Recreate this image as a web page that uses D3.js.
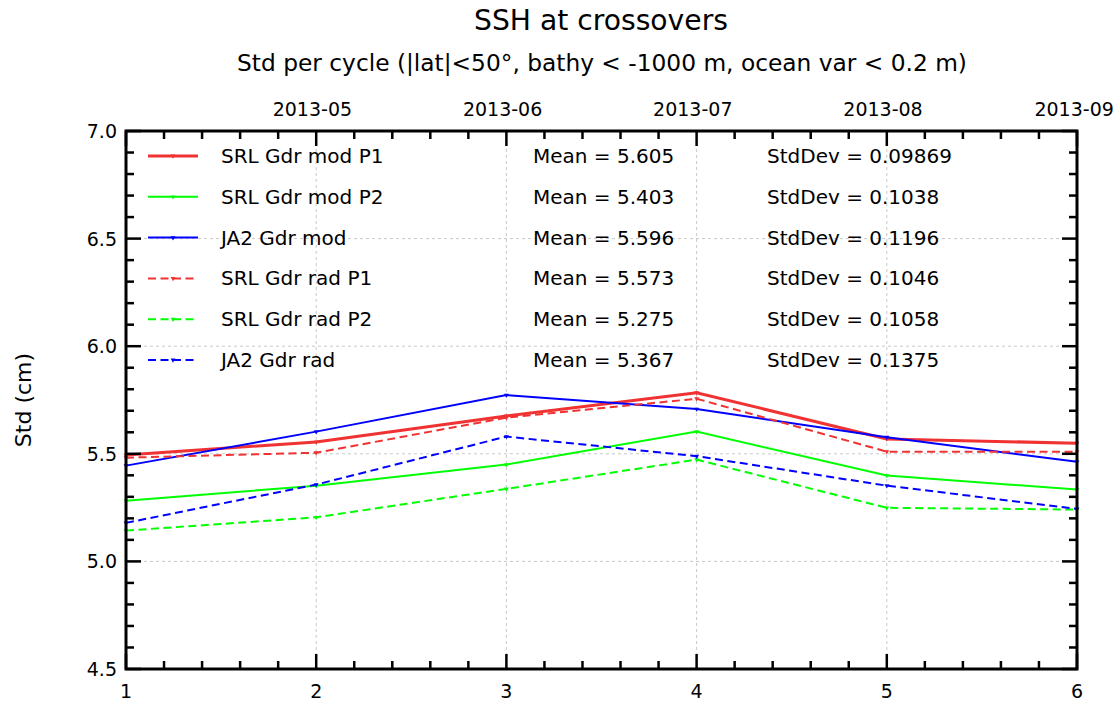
<!DOCTYPE html>
<meta charset="utf-8">
<style>
body { margin: 0; background: #fff; }
text { font-family: "DejaVu Sans", sans-serif; fill: #000; }
.grid line { stroke: #c8c8c8; stroke-width: 1; stroke-dasharray: 3,3; }
</style>
<body>
<svg width="1120" height="704"></svg>
</body>
<script src="https://d3js.org/d3.v7.min.js"></script>
<script>

var cycles = [1, 2, 3, 4, 5, 6];
var topLabels = ["2013-05", "2013-06", "2013-07", "2013-08", "2013-09"];
var topPositions = [1.98, 2.98, 3.98, 4.98, 5.985];

var srlModP1 = [5.494, 5.555, 5.676, 5.784, 5.569, 5.549];
var srlModP2 = [5.282, 5.352, 5.450, 5.603, 5.399, 5.334];
var ja2Mod   = [5.445, 5.603, 5.773, 5.708, 5.577, 5.463];
var srlRadP1 = [5.482, 5.505, 5.668, 5.756, 5.510, 5.509];
var srlRadP2 = [5.143, 5.205, 5.337, 5.473, 5.249, 5.241];
var ja2Rad   = [5.179, 5.357, 5.580, 5.489, 5.352, 5.244];

var seriesNames = ["SRL Gdr mod P1", "SRL Gdr mod P2", "JA2 Gdr mod", "SRL Gdr rad P1", "SRL Gdr rad P2", "JA2 Gdr rad"];
var seriesValues = [srlModP1, srlModP2, ja2Mod, srlRadP1, srlRadP2, ja2Rad];
var means = ["5.605", "5.403", "5.596", "5.573", "5.275", "5.367"];
var stddevs = ["0.09869", "0.1038", "0.1196", "0.1046", "0.1058", "0.1375"];
var colors = ["#f03232", "#00ff00", "#0000ff", "#f03232", "#00ff00", "#0000ff"];
var dashed = [false, false, false, true, true, true];
var widths = [3, 2, 2, 2, 2, 2];

var svg = d3.select("svg");
var m = {left: 126, right: 1077, top: 131, bottom: 669};

var x = d3.scaleLinear().domain([1, 6]).range([m.left, m.right]);
var y = d3.scaleLinear().domain([4.5, 7.0]).range([m.bottom, m.top]);

// titles
svg.append("text").attr("x", 601).attr("y", 30).attr("text-anchor", "middle")
    .style("font-size", "28.2px").text("SSH at crossovers");
svg.append("text").attr("x", 602).attr("y", 71).attr("text-anchor", "middle")
    .style("font-size", "23.3px").text("Std per cycle (|lat|<50°, bathy < -1000 m, ocean var < 0.2 m)");
svg.append("text").attr("transform", "translate(31,400) rotate(-90)")
    .attr("text-anchor", "middle").style("font-size", "22px").text("Std (cm)");

// grid
var grid = svg.append("g").attr("class", "grid");
grid.selectAll(".gx").data([2, 3, 4, 5]).enter().append("line")
    .attr("x1", x).attr("x2", x).attr("y1", m.top).attr("y2", m.bottom);
grid.selectAll(".gy").data([5.0, 5.5, 6.0, 6.5]).enter().append("line")
    .attr("x1", m.left).attr("x2", m.right).attr("y1", y).attr("y2", y);

// lines
var line = d3.line().x(function(d, i) { return x(cycles[i]); }).y(function(d) { return y(d); });
var tri = d3.symbol().type(d3.symbolTriangle).size(10);

seriesValues.forEach(function(vals, k) {
  svg.append("path").datum(vals)
      .attr("fill", "none")
      .attr("stroke", colors[k])
      .attr("stroke-width", widths[k])
      .attr("stroke-dasharray", dashed[k] ? "8,4.5" : null)
      .attr("d", line);
  svg.append("g").selectAll("path").data(vals).enter().append("path")
      .attr("d", tri)
      .attr("fill", colors[k])
      .attr("transform", function(d, i) { return "translate(" + x(cycles[i]) + "," + y(d) + ") rotate(180)"; });
});

// frame
svg.append("rect").attr("x", m.left).attr("y", m.top)
    .attr("width", m.right - m.left).attr("height", m.bottom - m.top)
    .attr("fill", "none").attr("stroke", "#000").attr("stroke-width", 3);

// ticks (inward, all four sides)
var xMinor = d3.range(1, 6.001, 0.2);
var yMinor = d3.range(4.5, 7.001, 0.1);
function isMajorX(v) { return Math.abs(v - Math.round(v)) < 1e-6; }
function isMajorY(v) { return Math.abs(v * 2 - Math.round(v * 2)) < 1e-6; }

var ticks = svg.append("g").attr("stroke", "#000").attr("stroke-width", 2.5);
ticks.selectAll(".xb").data(xMinor).enter().append("line")
    .attr("x1", x).attr("x2", x).attr("y1", m.bottom)
    .attr("y2", function(d) { return m.bottom - (isMajorX(d) ? 15 : 8); });
ticks.selectAll(".xt").data(xMinor).enter().append("line")
    .attr("x1", x).attr("x2", x).attr("y1", m.top)
    .attr("y2", function(d) { return m.top + (isMajorX(d) ? 15 : 8); });
ticks.selectAll(".yl").data(yMinor).enter().append("line")
    .attr("y1", y).attr("y2", y).attr("x1", m.left)
    .attr("x2", function(d) { return m.left + (isMajorY(d) ? 15 : 8); });
ticks.selectAll(".yr").data(yMinor).enter().append("line")
    .attr("y1", y).attr("y2", y).attr("x1", m.right)
    .attr("x2", function(d) { return m.right - (isMajorY(d) ? 15 : 8); });

// tick labels
svg.append("g").selectAll("text").data(cycles).enter().append("text")
    .attr("x", x).attr("y", m.bottom + 29).attr("text-anchor", "middle")
    .style("font-size", "19px").text(function(d) { return d; });
svg.append("g").selectAll("text").data(d3.range(4.5, 7.001, 0.5)).enter().append("text")
    .attr("x", m.left - 9).attr("y", function(d) { return y(d) + 7; }).attr("text-anchor", "end")
    .style("font-size", "19px").text(function(d) { return d.toFixed(1); });
svg.append("g").selectAll("text").data(topLabels).enter().append("text")
    .attr("x", function(d, i) { return x(topPositions[i]); }).attr("y", m.top - 15)
    .attr("text-anchor", "middle").style("font-size", "19px").text(function(d) { return d; });

// legend
var leg = svg.append("g").selectAll("g").data(seriesNames).enter().append("g")
    .attr("transform", function(d, i) { return "translate(0," + (156 + i * 40.8) + ")"; });
leg.append("line").attr("x1", 148).attr("x2", 198).attr("y1", 0).attr("y2", 0)
    .attr("stroke", function(d, i) { return colors[i]; })
    .attr("stroke-width", function(d, i) { return widths[i]; })
    .attr("stroke-dasharray", function(d, i) { return dashed[i] ? "8,4.5" : null; });
leg.append("path").attr("d", tri).attr("transform", "translate(173,0) rotate(180)")
    .attr("fill", function(d, i) { return colors[i]; });
leg.append("text").attr("x", 221).attr("y", 7).style("font-size", "20px").text(function(d) { return d; });
leg.append("text").attr("x", 533).attr("y", 7).style("font-size", "20px")
    .text(function(d, i) { return "Mean = " + means[i]; });
leg.append("text").attr("x", 767).attr("y", 7).style("font-size", "20px")
    .text(function(d, i) { return "StdDev = " + stddevs[i]; });

</script>
